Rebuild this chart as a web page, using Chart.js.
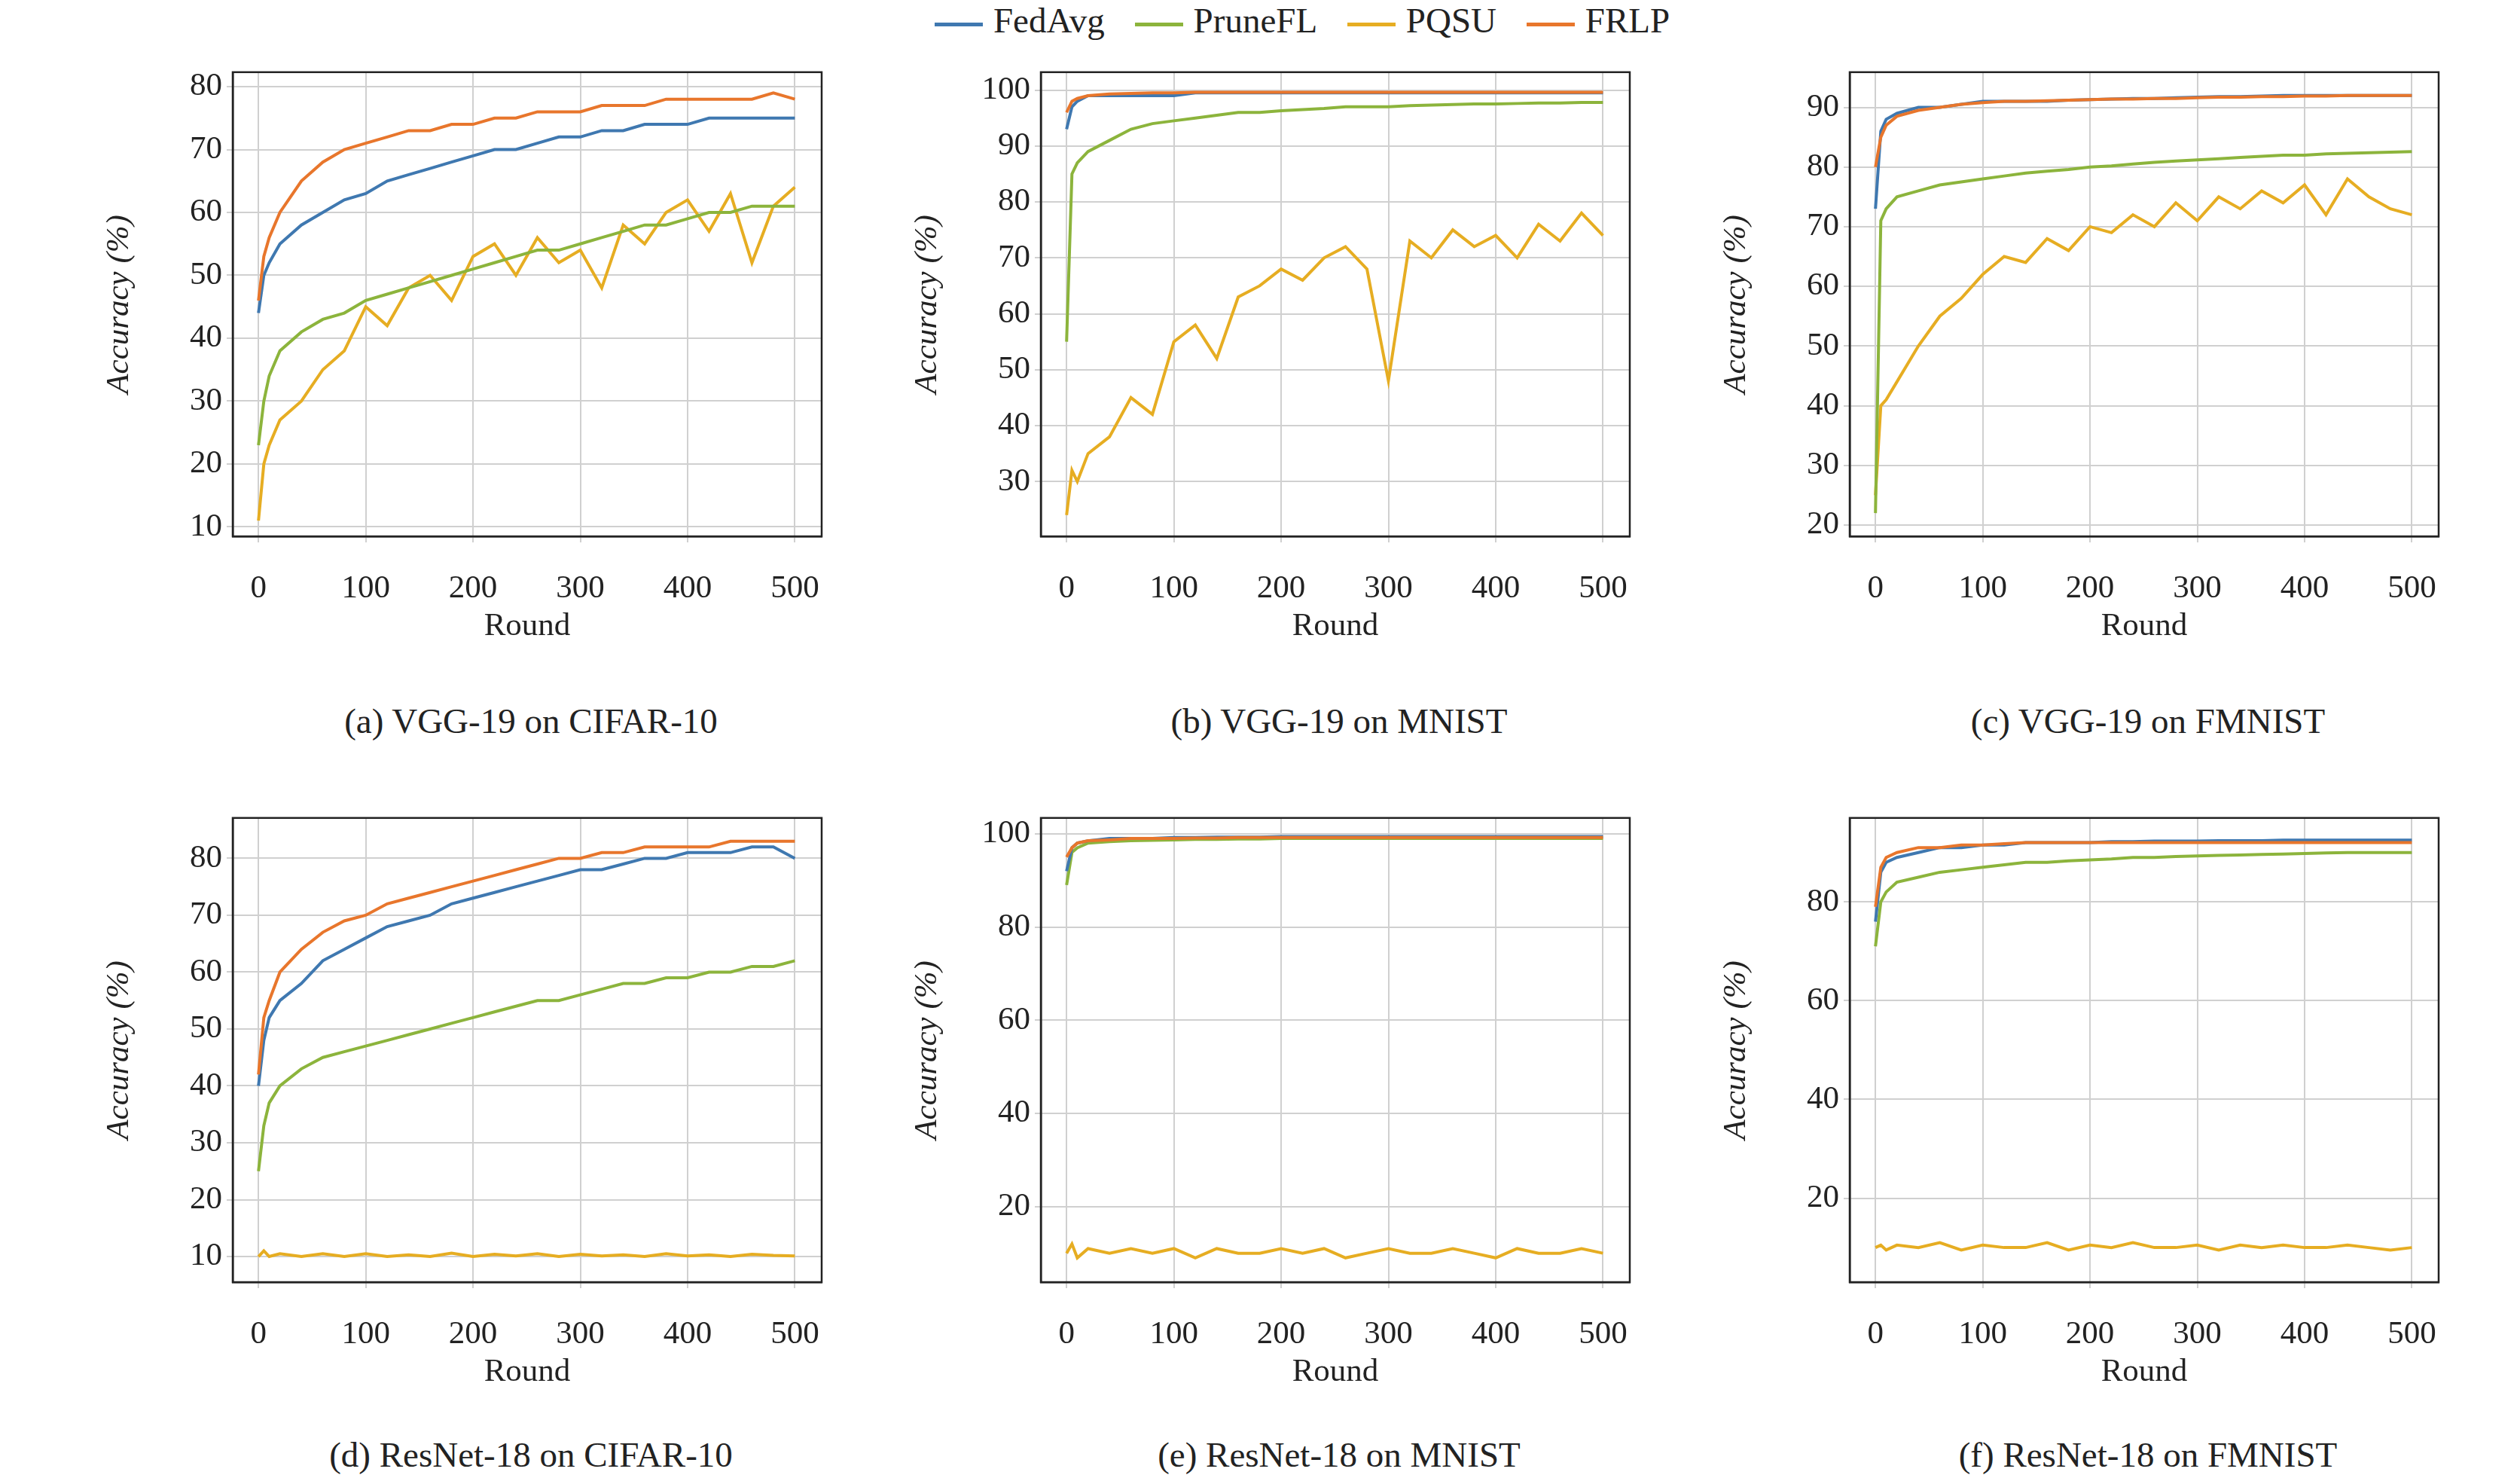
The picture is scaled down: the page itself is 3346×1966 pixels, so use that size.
<!DOCTYPE html>
<html>
<head>
<meta charset="utf-8">
<script src="https://cdn.jsdelivr.net/npm/chart.js@4"></script>
<style>
  body { margin: 0; background: #fff; width: 3346px; height: 1966px; position: relative; overflow: hidden;
         font-family: "Liberation Serif", serif; }
  canvas { position: absolute; }
  .cap { position: absolute; font-size: 47px; text-align: center; width: 1100px; color: #222; }
  #legend { position: absolute; top: 0; left: 56px; width: 3346px; text-align: center; font-size: 47px; color: #222; }
  #legend span { display: inline-block; margin: 0 14px; }
  #legend i { display: inline-block; width: 64px; height: 5px; vertical-align: middle; margin-right: 14px; }
</style>
</head>
<body>
<div id="legend">
  <span><i style="background:#3f78b0"></i>FedAvg</span>
  <span><i style="background:#8cb43c"></i>PruneFL</span>
  <span><i style="background:#e6ad22"></i>PQSU</span>
  <span><i style="background:#e8762c"></i>FRLP</span>
</div>
<canvas id="a" width="996" height="798"></canvas>
<canvas id="b" width="996" height="798"></canvas>
<canvas id="c" width="996" height="798"></canvas>
<canvas id="d" width="996" height="798"></canvas>
<canvas id="e" width="996" height="798"></canvas>
<canvas id="f" width="996" height="798"></canvas>
<div class="cap" id="capa">(a) VGG-19 on CIFAR-10</div>
<div class="cap" id="capb">(b) VGG-19 on MNIST</div>
<div class="cap" id="capc">(c) VGG-19 on FMNIST</div>
<div class="cap" id="capd">(d) ResNet-18 on CIFAR-10</div>
<div class="cap" id="cape">(e) ResNet-18 on MNIST</div>
<div class="cap" id="capf">(f) ResNet-18 on FMNIST</div>
<script>
// Sampled rounds
let rounds = [0,5,10,20,40,60,80,100,120,140,160,180,200,220,240,260,280,300,320,340,360,380,400,420,440,460,480,500];
let xTicks = [0,100,200,300,400,500];

// (a) VGG-19 on CIFAR-10
let aFedAvg  = [44,50,52,55,58,60,62,63,65,66,67,68,69,70,70,71,72,72,73,73,74,74,74,75,75,75,75,75];
let aPruneFL = [23,30,34,38,41,43,44,46,47,48,49,50,51,52,53,54,54,55,56,57,58,58,59,60,60,61,61,61];
let aPQSU    = [11,20,23,27,30,35,38,45,42,48,50,46,53,55,50,56,52,54,48,58,55,60,62,57,63,52,61,64];
let aFRLP    = [46,53,56,60,65,68,70,71,72,73,73,74,74,75,75,76,76,76,77,77,77,78,78,78,78,78,79,78];
let aTicks = [10,20,30,40,50,60,70,80];

// (b) VGG-19 on MNIST
let bFedAvg  = [93,97,98,99,99,99,99,99,99.5,99.5,99.5,99.5,99.5,99.5,99.5,99.5,99.5,99.5,99.5,99.5,99.5,99.5,99.5,99.5,99.5,99.5,99.5,99.5];
let bPruneFL = [55,85,87,89,91,93,94,94.5,95,95.5,96,96,96.3,96.5,96.7,97,97,97,97.2,97.3,97.4,97.5,97.5,97.6,97.7,97.7,97.8,97.8];
let bPQSU    = [24,32,30,35,38,45,42,55,58,52,63,65,68,66,70,72,68,48,73,70,75,72,74,70,76,73,78,74];
let bFRLP    = [96,98,98.5,99,99.3,99.4,99.5,99.5,99.6,99.6,99.6,99.6,99.6,99.6,99.6,99.6,99.6,99.6,99.6,99.6,99.6,99.6,99.6,99.6,99.6,99.6,99.6,99.6];
let bTicks = [30,40,50,60,70,80,90,100];

// (c) VGG-19 on FMNIST
let cFedAvg  = [73,86,88,89,90,90,90.5,91,91,91,91,91.2,91.3,91.4,91.5,91.5,91.6,91.7,91.8,91.8,91.9,92,92,92,92,92,92,92];
let cPruneFL = [22,71,73,75,76,77,77.5,78,78.5,79,79.3,79.6,80,80.2,80.5,80.8,81,81.2,81.4,81.6,81.8,82,82,82.2,82.3,82.4,82.5,82.6];
let cPQSU    = [25,40,41,44,50,55,58,62,65,64,68,66,70,69,72,70,74,71,75,73,76,74,77,72,78,75,73,72];
let cFRLP    = [80,85,87,88.5,89.5,90,90.5,90.8,91,91,91.1,91.2,91.3,91.4,91.4,91.5,91.5,91.6,91.7,91.7,91.8,91.8,91.9,91.9,92,92,92,92];
let cTicks = [20,30,40,50,60,70,80,90];

// (d) ResNet-18 on CIFAR-10
let dFedAvg  = [40,48,52,55,58,62,64,66,68,69,70,72,73,74,75,76,77,78,78,79,80,80,81,81,81,82,82,80];
let dPruneFL = [25,33,37,40,43,45,46,47,48,49,50,51,52,53,54,55,55,56,57,58,58,59,59,60,60,61,61,62];
let dPQSU    = [10,11,10,10.5,10,10.5,10,10.5,10,10.3,10,10.6,10,10.4,10.1,10.5,10,10.4,10.1,10.3,10,10.5,10.1,10.3,10,10.4,10.2,10.1];
let dFRLP    = [42,52,55,60,64,67,69,70,72,73,74,75,76,77,78,79,80,80,81,81,82,82,82,82,83,83,83,83];
let dTicks = [10,20,30,40,50,60,70,80];

// (e) ResNet-18 on MNIST
let eFedAvg  = [92,97,98,98.5,99,99,99,99.2,99.2,99.3,99.3,99.3,99.4,99.4,99.4,99.4,99.4,99.4,99.4,99.4,99.4,99.4,99.4,99.4,99.4,99.4,99.4,99.4];
let ePruneFL = [89,96,97,98,98.3,98.5,98.6,98.7,98.8,98.8,98.9,98.9,99,99,99,99,99,99,99,99,99,99,99,99,99,99,99,99];
let ePQSU    = [10,12,9,11,10,11,10,11,9,11,10,10,11,10,11,9,10,11,10,10,11,10,9,11,10,10,11,10];
let eFRLP    = [95,97,98,98.5,98.7,99,99,99,99.1,99.1,99.2,99.2,99.2,99.2,99.2,99.2,99.2,99.2,99.2,99.2,99.2,99.2,99.2,99.2,99.2,99.2,99.2,99.2];
let eTicks = [20,40,60,80,100];

// (f) ResNet-18 on FMNIST
let fFedAvg  = [76,86,88,89,90,91,91,91.5,91.5,92,92,92,92,92.2,92.2,92.3,92.3,92.3,92.4,92.4,92.4,92.5,92.5,92.5,92.5,92.5,92.5,92.5];
let fPruneFL = [71,80,82,84,85,86,86.5,87,87.5,88,88,88.3,88.5,88.7,89,89,89.2,89.3,89.4,89.5,89.6,89.7,89.8,89.9,90,90,90,90];
let fPQSU    = [10,10.5,9.5,10.5,10,11,9.5,10.5,10,10,11,9.5,10.5,10,11,10,10,10.5,9.5,10.5,10,10.5,10,10,10.5,10,9.5,10];
let fFRLP    = [79,87,89,90,91,91,91.5,91.5,91.8,92,92,92,92,92,92,92,92,92,92,92,92,92,92,92,92,92,92,92];
let fTicks = [20,40,60,80];

const colors = { FedAvg: "#3f78b0", PruneFL: "#8cb43c", PQSU: "#e6ad22", FRLP: "#e8762c" };
const font = "Liberation Serif";

const series = (name, vals, order) => ({
    label: name,
    data: vals.map((v, i) => ({ x: rounds[i], y: v })),
    borderColor: colors[name],
    borderWidth: 4,
    pointRadius: 0,
    tension: 0,
    order: order
});

const makeChart = (id, left, top, yMin, yMax, yTicks, fed, prune, pqsu, frlp) => {
    const el = document.getElementById(id);
    el.style.left = left + "px";
    el.style.top = top + "px";
    new Chart(el, {
        type: "line",
        data: {
            datasets: [
                series("FedAvg", fed, 2),
                series("PruneFL", prune, 3),
                series("PQSU", pqsu, 4),
                series("FRLP", frlp, 1)
            ]
        },
        options: {
            responsive: false,
            devicePixelRatio: 1,
            animation: false,
            layout: { padding: { top: 10, right: 30, left: 0, bottom: 0 } },
            plugins: { legend: { display: false }, tooltip: { enabled: false } },
            scales: {
                x: {
                    type: "linear", min: -24, max: 525,
                    afterBuildTicks: ax => { ax.ticks = xTicks.map(v => ({ value: v })); },
                    afterFit: ax => { ax.height = 150; },
                    grid: { color: "#d0d0d0", lineWidth: 2, drawTicks: true, tickLength: 8 },
                    border: { color: "#222", width: 2.5 },
                    ticks: { color: "#222", font: { family: font, size: 43 }, maxRotation: 0, padding: 36 },
                    title: { display: true, text: "Round", color: "#222", font: { family: font, size: 43 }, padding: { top: 6 } }
                },
                y: {
                    min: yMin, max: yMax,
                    afterBuildTicks: ax => { ax.ticks = yTicks.map(v => ({ value: v })); },
                    afterFit: ax => { ax.width = 180; },
                    grid: { color: "#d0d0d0", lineWidth: 2, tickLength: 8 },
                    border: { color: "#222", width: 2.5 },
                    ticks: { color: "#222", font: { family: font, size: 43 }, padding: 6 },
                    title: { display: true, text: "Accuracy (%)", color: "#222", font: { family: font, size: 43, style: "italic" }, padding: { bottom: 2 } }
                }
            }
        },
        plugins: [{
            id: "frame",
            afterDraw: c => {
                const a = c.chartArea, g = c.ctx;
                g.save();
                g.strokeStyle = "#222";
                g.lineWidth = 2.5;
                g.strokeRect(a.left, a.top, a.right - a.left, a.bottom - a.top);
                g.restore();
            }
        }]
    });
};

const cols = [309, 1382, 2456];
makeChart("a", cols[0] - 180, 64, 8.5, 82.3, aTicks, aFedAvg, aPruneFL, aPQSU, aFRLP);
makeChart("b", cols[1] - 180, 64, 20.2, 103.2, bTicks, bFedAvg, bPruneFL, bPQSU, bFRLP);
makeChart("c", cols[2] - 180, 64, 18.1, 95.9, cTicks, cFedAvg, cPruneFL, cPQSU, cFRLP);
makeChart("d", cols[0] - 180, 1054, 5.5, 87.1, dTicks, dFedAvg, dPruneFL, dPQSU, dFRLP);
makeChart("e", cols[1] - 180, 1054, 3.8, 103.4, eTicks, eFedAvg, ePruneFL, ePQSU, eFRLP);
makeChart("f", cols[2] - 180, 1054, 3.0, 97.0, fTicks, fFedAvg, fPruneFL, fPQSU, fFRLP);

["a","b","c","d","e","f"].forEach((id, i) => {
    const cap = document.getElementById("cap" + id);
    cap.style.left = (cols[i % 3] + 396 - 550) + "px";
    cap.style.top = (i < 3 ? 930 : 1904) + "px";
});
</script>
</body>
</html>
